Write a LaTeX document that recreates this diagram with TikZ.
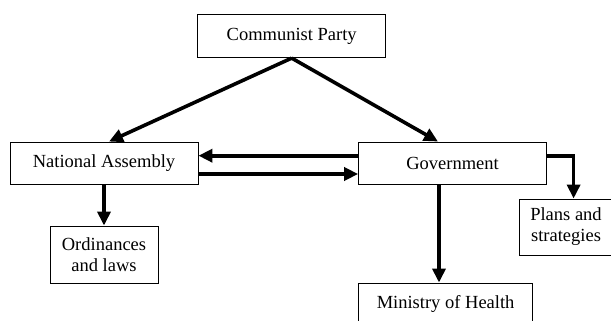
\documentclass[tikz,border=0pt]{standalone}
\usepackage{fontspec}
\setmainfont{Liberation Serif}
\usetikzlibrary{arrows.meta}
\begin{document}
\begin{tikzpicture}[x=1pt,y=-1pt,
  box/.style={draw=black,line width=0.9pt,rectangle,inner sep=0pt,align=center,
    font=\fontsize{18.5}{21}\selectfont},
  arr/.style={line width=3.6pt,-{Triangle[length=14pt,width=13pt]}}]
\useasboundingbox (0,0) rectangle (611,321);
\clip (0,0) rectangle (611,321);
\node[box,minimum width=188pt,minimum height=42.7pt] (cp) at (291.7,36.3) {Communist Party};
\node[box,minimum width=188pt,minimum height=42pt] (na) at (104,163) {National Assembly};
\node[box,minimum width=188pt,minimum height=42pt] (gov) at (452.6,163) {Government};
\node[box,minimum width=93pt,minimum height=56pt] (plans) at (566,227) {Plans and\\strategies};
\node[box,minimum width=108pt,minimum height=57pt] (ord) at (104,254.5) {Ordinances\\and laws};
\node[box,minimum width=174pt,minimum height=42pt] (min) at (445.6,304) {Ministry of Health};
\draw[arr] (cp.south) -- ([xshift=5pt]na.north);
\draw[arr] (cp.south) -- ([xshift=-14.6pt]gov.north);
\draw[arr] ([yshift=7.3pt]gov.west) -- ([yshift=7.3pt]na.east);
\draw[arr] ([yshift=-11pt]na.east) -- ([yshift=-11pt]gov.west);
\draw[arr] ([yshift=7.3pt]gov.east) -| ([xshift=7.6pt]plans.north);
\draw[arr] (na.south) -- (ord.north);
\draw[arr] ([xshift=-13.6pt]gov.south) -- ([xshift=-13.6pt]gov.south |- min.north);
\end{tikzpicture}
\end{document}
